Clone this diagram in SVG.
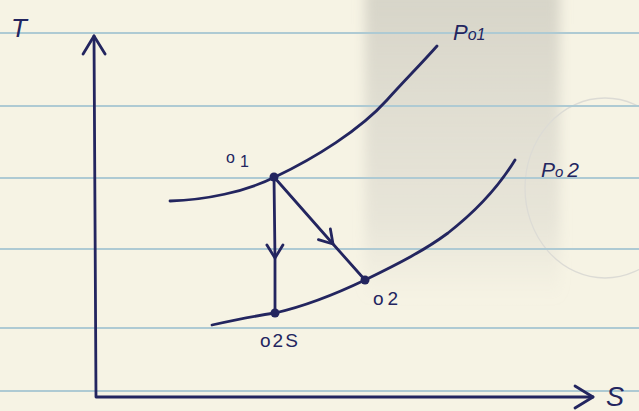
<svg xmlns="http://www.w3.org/2000/svg" width="639" height="411" viewBox="0 0 639 411">
  <style>
    .rule { stroke: #aecad3; stroke-width: 2; fill: none; }
    .ink { stroke: #23255f; stroke-width: 2.8; fill: none; stroke-linecap: round; stroke-linejoin: round; }
    .dot { fill: #23255f; }
    .lbl { font-family: "Liberation Sans", "DejaVu Sans", sans-serif; fill: #23255f; }
    .it { font-style: italic; }
  </style>
  <defs>
    <linearGradient id="shade" x1="0" y1="0" x2="0" y2="1">
      <stop offset="0" stop-color="#c9c7bc" stop-opacity="0.7"/>
      <stop offset="0.35" stop-color="#cdcbc1" stop-opacity="0.55"/>
      <stop offset="0.75" stop-color="#d2d0c7" stop-opacity="0.4"/>
      <stop offset="1" stop-color="#d6d4cc" stop-opacity="0"/>
    </linearGradient>
    <filter id="soft" x="-20%" y="-20%" width="140%" height="140%">
      <feGaussianBlur stdDeviation="6"/>
    </filter>
    <marker id="axisHead" viewBox="-20 -13 24 26" refX="0" refY="0" markerWidth="24" markerHeight="26" markerUnits="userSpaceOnUse" orient="auto-start-reverse">
      <path d="M-18,-11 L0,0 L-18,11" fill="none" stroke="#23255f" stroke-width="2.8" stroke-linecap="round" stroke-linejoin="round"/>
    </marker>
    <marker id="midHead" viewBox="-16 -11 20 22" refX="0" refY="0" markerWidth="20" markerHeight="22" markerUnits="userSpaceOnUse" orient="auto">
      <path d="M-13,-8 L0,0 L-13,8" fill="none" stroke="#23255f" stroke-width="2.8" stroke-linecap="round" stroke-linejoin="round"/>
    </marker>
  </defs>

  <!-- paper -->
  <rect x="0" y="0" width="639" height="411" fill="#f6f3e4"/>
  <rect x="365" y="-10" width="195" height="310" fill="url(#shade)" filter="url(#soft)"/>
  <ellipse cx="605" cy="188" rx="80" ry="90" fill="none" stroke="#dcdbd5" stroke-width="1.3"/>
  <g id="rules">
    <line class="rule" x1="0" y1="33" x2="639" y2="33"/>
    <line class="rule" x1="0" y1="106" x2="639" y2="106"/>
    <line class="rule" x1="0" y1="178" x2="639" y2="178"/>
    <line class="rule" x1="0" y1="249" x2="639" y2="249"/>
    <line class="rule" x1="0" y1="328" x2="639" y2="328"/>
    <line class="rule" x1="0" y1="391" x2="639" y2="391"/>
  </g>

  <!-- axes -->
  <g id="axes">
    <path class="ink" d="M94,36 L96,397 L593,397" marker-start="url(#axisHead)" marker-end="url(#axisHead)"/>
    <text class="lbl it" x="11" y="37" font-size="26">T</text>
    <text class="lbl it" x="606" y="406" font-size="27">S</text>
  </g>

  <!-- isobars -->
  <g id="P01">
    <path class="ink" d="M170,201 C205,200 245,192 275,177 C315,158 360,130 387,100 C405,80 422,63 437,46"/>
    <text class="lbl it" x="453" y="40" font-size="22">P<tspan font-size="16">o1</tspan></text>
  </g>
  <g id="P02">
    <path class="ink" d="M212,325 C235,320 255,316 275,313 C310,305 340,292 365,280 C400,263 425,250 448,233 C475,212 498,188 515,160"/>
    <text class="lbl it" x="541" y="177" font-size="21">P<tspan font-size="15">o</tspan><tspan dx="4">2</tspan></text>
  </g>

  <!-- state points -->
  <g id="state-01">
    <circle class="dot" cx="274" cy="177" r="4.5"/>
    <text class="lbl" x="226" y="163" font-size="16">o<tspan dx="5" dy="4">1</tspan></text>
  </g>
  <g id="state-02">
    <circle class="dot" cx="365" cy="280" r="4.5"/>
    <text class="lbl" x="373" y="305" font-size="19" letter-spacing="4">o2</text>
  </g>
  <g id="state-02s">
    <circle class="dot" cx="275" cy="313" r="4.5"/>
    <text class="lbl" x="260" y="347" font-size="19" letter-spacing="2">o2S</text>
  </g>

  <!-- processes -->
  <g id="connectors">
    <path class="ink" d="M274,177 L275,258 L275,313" marker-mid="url(#midHead)"/>
    <path class="ink" d="M274,177 L333,244 L365,280" marker-mid="url(#midHead)"/>
  </g>
</svg>
